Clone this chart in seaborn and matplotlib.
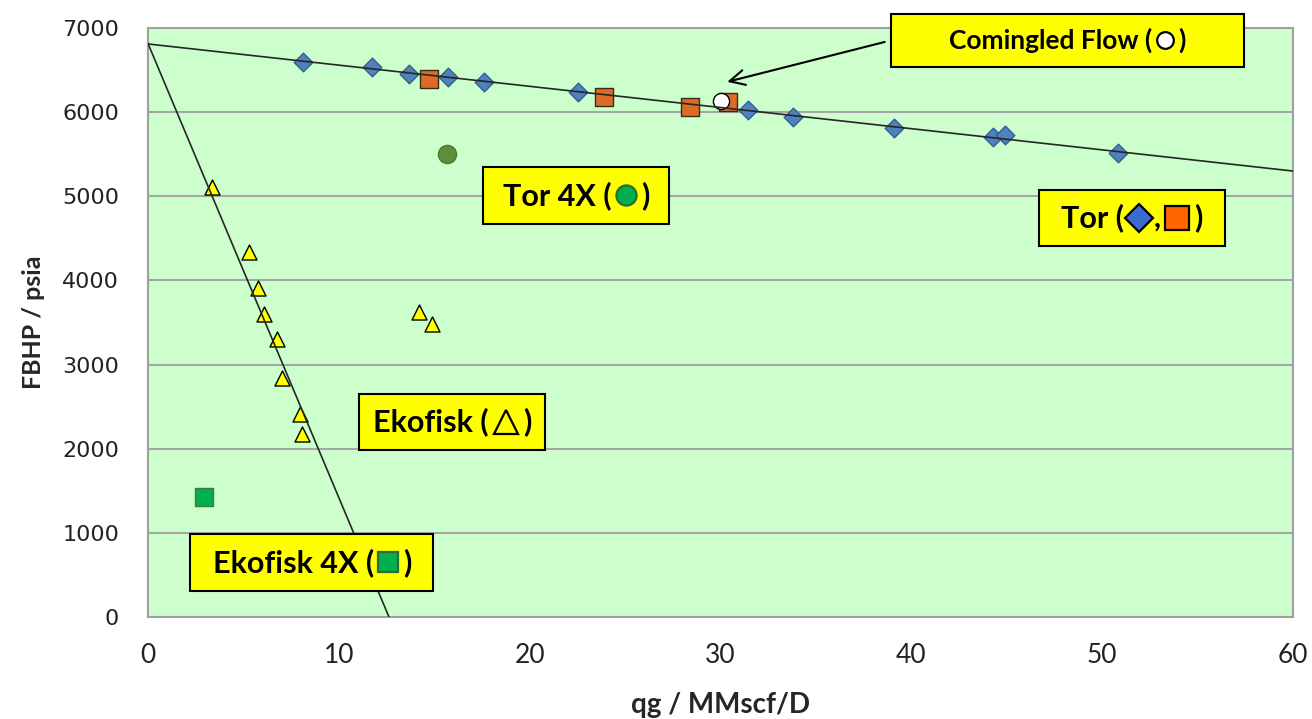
import matplotlib
matplotlib.use("Agg")
import matplotlib.pyplot as plt
import seaborn as sns
from matplotlib.offsetbox import TextArea, DrawingArea, HPacker, AnnotationBbox
from matplotlib.lines import Line2D

# ---- data: gas rate (MMscf/D) vs flowing bottom-hole pressure (psia) ----
tor_q = [8.1, 11.75, 13.65, 15.7, 17.6, 22.5, 31.45, 33.8, 39.1, 44.3, 44.9, 50.85]
tor_p = [6595, 6535, 6455, 6415, 6360, 6245, 6025, 5945, 5815, 5710, 5730, 5510]

tor_sq_q = [14.7, 23.9, 28.4, 30.4]
tor_sq_p = [6395, 6185, 6060, 6115]

tor4x_q = [15.65]
tor4x_p = [5505]

comingled_q = [30.0]
comingled_p = [6130]

ekofisk_q = [3.35, 5.3, 5.75, 6.05, 6.75, 7.0, 7.95, 8.05, 14.2, 14.9]
ekofisk_p = [5115, 4335, 3910, 3605, 3300, 2840, 2410, 2175, 3625, 3480]

ekofisk4x_q = [2.95]
ekofisk4x_p = [1425]

# straight-line fits through the common reservoir pressure
tor_fit_q = [0, 60]
tor_fit_p = [6810, 5300]
ekofisk_fit_q = [0, 12.62]
ekofisk_fit_p = [6810, 0]

x_ticks = [0, 10, 20, 30, 40, 50, 60]
y_ticks = [0, 1000, 2000, 3000, 4000, 5000, 6000, 7000]

sns.set_theme(style="white")
plt.rcParams["font.family"] = ["Lato", "DejaVu Sans"]
BOLD = ["Lato", "DejaVu Sans"]

fig = plt.figure(figsize=(13.12, 7.19), dpi=100)
ax = fig.add_axes([0.11296, 0.14186, 0.87256, 0.8192])
ax.set_facecolor("#CCFFCC")

# fitted lines (drawn over the markers)
sns.lineplot(x=tor_fit_q, y=tor_fit_p, color="#262626", linewidth=1.2, ax=ax, zorder=5)
sns.lineplot(x=ekofisk_fit_q, y=ekofisk_fit_p, color="#262626", linewidth=1.2, ax=ax, zorder=5)

sns.scatterplot(x=tor_q, y=tor_p, marker="D", s=90, color="#4F81BD",
                edgecolor="#35608F", linewidth=1.0, ax=ax, zorder=3)
sns.scatterplot(x=tor_sq_q, y=tor_sq_p, marker="s", s=170, color="#DD6B25",
                edgecolor="#3A2A1A", linewidth=1.0, ax=ax, zorder=3)
sns.scatterplot(x=tor4x_q, y=tor4x_p, marker="o", s=170, color="#5E8E3A",
                edgecolor="#4C7630", linewidth=1.0, ax=ax, zorder=3)
sns.scatterplot(x=comingled_q, y=comingled_p, marker="o", s=135, color="white",
                edgecolor="black", linewidth=1.0, ax=ax, zorder=4)
sns.scatterplot(x=ekofisk_q, y=ekofisk_p, marker="^", s=117, color="#FFFF00",
                edgecolor="black", linewidth=1.0, ax=ax, zorder=3)
sns.scatterplot(x=ekofisk4x_q, y=ekofisk4x_p, marker="s", s=170, color="#00B050",
                edgecolor="#3C7D32", linewidth=1.0, ax=ax, zorder=3)

ax.set_xlim(0, 60)
ax.set_ylim(0, 7000)
ax.set_xticks(x_ticks)
ax.set_yticks(y_ticks)
ax.set_xticklabels([str(v) for v in x_ticks], family=["Lato", "DejaVu Sans"], fontsize=19)
ax.set_yticklabels([str(v) for v in y_ticks], family=["DejaVu Sans"], fontsize=16)
ax.tick_params(axis="both", direction="out", length=7, width=1.5, color="#A0A0A0",
               labelcolor="#222222")
ax.tick_params(axis="x", pad=12)
ax.tick_params(axis="y", pad=14)

ax.yaxis.grid(True, color="#A6A6A6", linewidth=1.5)
ax.xaxis.grid(False)
ax.set_axisbelow(True)
for sp in ax.spines.values():
    sp.set_color("#A0A0A0")
    sp.set_linewidth(1.5)

ax.set_xlabel("qg / MMscf/D", fontsize=20, fontweight="bold", family=BOLD, labelpad=17)
ax.set_ylabel("FBHP / psia", fontsize=18, fontweight="bold", family=BOLD, labelpad=12)


def callout(parts, q, p, fontsize, side_pad=0):
    """Yellow labelled box; marker tuples are drawn as small glyphs inside the text."""
    kids = []
    if side_pad:
        kids.append(DrawingArea(side_pad, 1, 0, 0))
    for part in parts:
        if isinstance(part, str):
            kids.append(TextArea(part, textprops=dict(fontsize=fontsize, fontweight="bold",
                                                      family=BOLD, color="black")))
        else:
            marker, face, edge, size = part
            da = DrawingArea(size * 1.2, size * 1.2, 0, 0)
            da.add_artist(Line2D([size * 0.6], [size * 0.6], marker=marker, markersize=size,
                                 markerfacecolor=face, markeredgecolor=edge,
                                 markeredgewidth=1.6, linestyle="none"))
            kids.append(da)
    if side_pad:
        kids.append(DrawingArea(side_pad, 1, 0, 0))
    row = HPacker(children=kids, align="center", pad=0, sep=2)
    ab = AnnotationBbox(row, (q, p), xycoords="data", frameon=True, box_alignment=(0.5, 0.5),
                        fontsize=10, annotation_clip=False, zorder=6,
                        bboxprops=dict(boxstyle="square,pad=1.0", facecolor="#FFFF00",
                                       edgecolor="black", linewidth=1.5))
    ax.add_artist(ab)


callout(["Comingled Flow (", ("o", "white", "black", 12), ")"], 48.18, 6852, 19, side_pad=30)
callout(["Tor (", ("D", "#3A6BD0", "black", 14), ",", ("s", "#FF6600", "black", 17), ")"],
        51.56, 4742, 22, side_pad=4)
callout(["Tor 4X (", ("o", "#00B050", "#2E6B2E", 14.5), ")"], 22.42, 5010, 22, side_pad=2)
callout(["Ekofisk (", ("^", "none", "black", 17), ")"], 15.93, 2318, 22)
callout(["Ekofisk 4X (", ("s", "#00B050", "#2F6B2F", 14), ")"], 8.58, 648, 22, side_pad=4)

ax.annotate("", xy=(30.35, 6360), xytext=(38.6, 6834), xycoords="data",
            arrowprops=dict(arrowstyle="->,head_length=0.9,head_width=0.45",
                            color="black", linewidth=1.5, shrinkA=0, shrinkB=0),
            annotation_clip=False, zorder=5)

fig.savefig("out.png", dpi=100, facecolor="white")
